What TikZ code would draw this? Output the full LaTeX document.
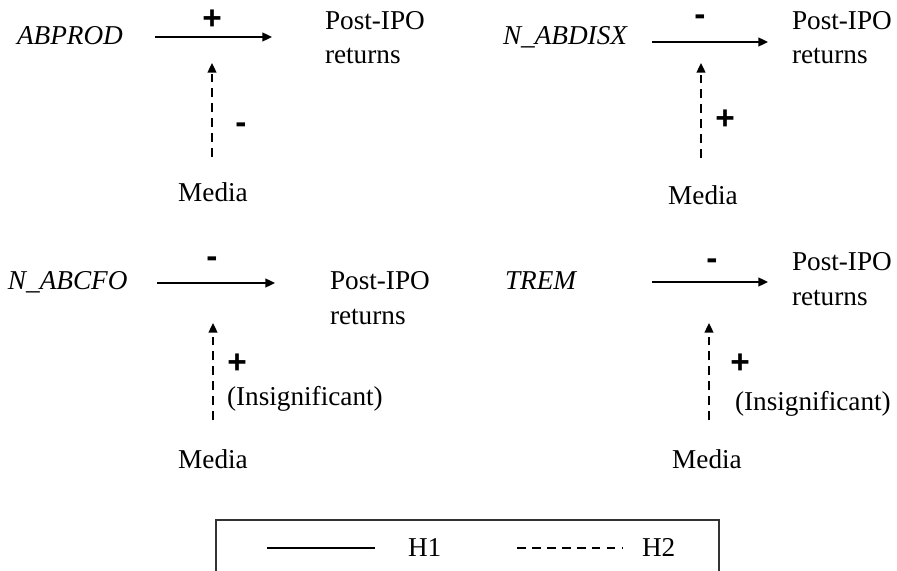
\documentclass[tikz,border=0pt]{standalone}
\usepackage{fontspec}
\setmainfont{Liberation Serif}
\newfontfamily\signfont{Liberation Sans}
\usetikzlibrary{arrows.meta}
\begin{document}
\begin{tikzpicture}[x=0.02cm,y=-0.02cm,
  font=\fontsize{15.5}{18.7}\selectfont,
  lbl/.style={inner sep=0pt, outer sep=0pt},
  var/.style={lbl, anchor=base west, font=\fontsize{15.5}{18.7}\selectfont\itshape},
  txt/.style={lbl, anchor=base west},
  ctxt/.style={lbl, anchor=base},
  sign/.style={lbl, font=\signfont\bfseries\fontsize{19}{20}\selectfont},
  hone/.style={line width=1.1pt, -{Triangle[length=5.5pt,width=5pt]}},
  htwo/.style={hone, dash pattern=on 5pt off 3.5pt},
  legsolid/.style={line width=1.1pt},
  legdash/.style={line width=1.1pt, dash pattern=on 5pt off 3.5pt}]
\useasboundingbox (0,0) rectangle (897,571);
\clip (0,0) rectangle (897,571);

% Panel 1
\node[var] (v1) at (17,45) {ABPROD};
\coordinate (a1s) at (155,37); \coordinate (a1e) at (272,37);
\draw[hone] (a1s) -- (a1e);
\node[sign] (s1) at (212,20) {+};
\node[txt] (p1) at (325,30) {Post-IPO};
\node[txt] (r1) at (325,64) {returns};
\coordinate (m1s) at (212,157); \coordinate (m1e) at (212,63);
\draw[htwo] (m1s) -- (m1e);
\node[sign] (t1) at (241,128) {-};
\node[ctxt] (md1) at (213,202) {Media};

% Panel 2
\node[var] (v2) at (503,45) {N\_ABDISX};
\coordinate (a2s) at (652,42); \coordinate (a2e) at (768,42);
\draw[hone] (a2s) -- (a2e);
\node[sign] (s2) at (700,20) {-};
\node[txt] (p2) at (792,30) {Post-IPO};
\node[txt] (r2) at (792,64) {returns};
\coordinate (m2s) at (701,158); \coordinate (m2e) at (701,63);
\draw[htwo] (m2s) -- (m2e);
\node[sign] (t2) at (725,120) {+};
\node[ctxt] (md2) at (703,205) {Media};

% Panel 3
\node[var] (v3) at (8,290) {N\_ABCFO};
\coordinate (a3s) at (157,283); \coordinate (a3e) at (275,283);
\draw[hone] (a3s) -- (a3e);
\node[sign] (s3) at (212,262) {-};
\node[txt] (p3) at (330,290) {Post-IPO};
\node[txt] (r3) at (330,324) {returns};
\coordinate (m3s) at (213,420); \coordinate (m3e) at (213,323);
\draw[htwo] (m3s) -- (m3e);
\node[sign] (t3) at (237,364) {+};
\node[txt] (i3) at (227,405) {(Insignificant)};
\node[ctxt] (md3) at (213,468) {Media};

% Panel 4
\node[var] (v4) at (505,290) {TREM};
\coordinate (a4s) at (652,282); \coordinate (a4e) at (768,282);
\draw[hone] (a4s) -- (a4e);
\node[sign] (s4) at (712,264) {-};
\node[txt] (p4) at (792,271) {Post-IPO};
\node[txt] (r4) at (792,305) {returns};
\coordinate (m4s) at (709,420); \coordinate (m4e) at (709,323);
\draw[htwo] (m4s) -- (m4e);
\node[sign] (t4) at (740,364) {+};
\node[txt] (i4) at (735,410) {(Insignificant)};
\node[ctxt] (md4) at (707,468) {Media};

% Legend
\draw[line width=0.7pt, draw=black!80] (216,520) rectangle (719,600);
\coordinate (l1s) at (267,548); \coordinate (l1e) at (375,548);
\draw[legsolid] (l1s) -- (l1e);
\node[txt] (h1) at (408,556) {H1};
\coordinate (l2s) at (517,548); \coordinate (l2e) at (622,548);
\draw[legdash] (l2s) -- (l2e);
\node[txt] (h2) at (642,556) {H2};
\end{tikzpicture}
\end{document}
